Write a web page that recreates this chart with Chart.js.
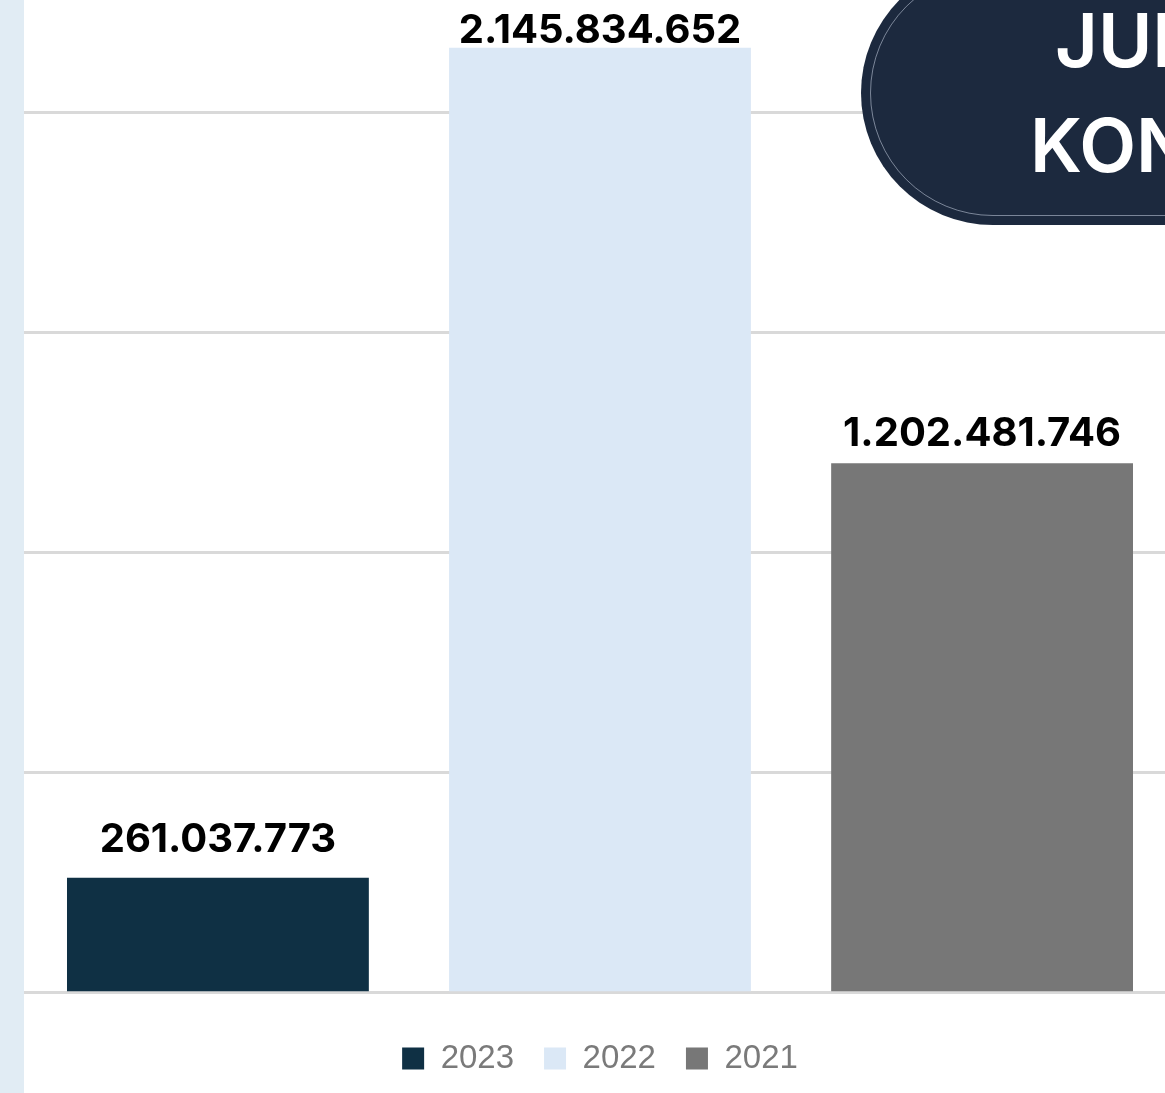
<!DOCTYPE html>
<html>
<head>
<meta charset="utf-8">
<script src="https://cdn.jsdelivr.net/npm/chart.js@4.4.1/dist/chart.umd.min.js"></script>
<style>
  html, body { margin: 0; padding: 0; width: 1165px; height: 1093px; overflow: hidden; background: #fff; }
  #strip { position: absolute; left: 0; top: 0; width: 24px; height: 1093px; background: #e1ecf4; }
  #wrap { position: absolute; left: 24px; top: 0; width: 1152px; height: 1093px; }
  #pill { position: absolute; left: 861px; top: -39px; width: 600px; height: 264px; border-radius: 132px; background: #1c293e; }
  #pill:before { content: ""; position: absolute; left: 9px; top: 9px; right: -20px; bottom: 9px; border: 1px solid rgba(200,210,225,0.55); border-radius: 123px; }
  .ptxt { position: absolute; color: #fff; font-family: Inter, sans-serif; font-weight: 600; font-size: 74px; line-height: 1; white-space: nowrap; }
</style>
</head>
<body>
<div id="strip"></div>
<div id="wrap"><canvas id="myChart" width="1152" height="1093"></canvas></div>
<div id="pill"></div>
<div class="ptxt" style="left:1055px; top:3px;">JUMLAH</div>
<div class="ptxt" style="left:1030px; top:108px;">KONSUMSI</div>
<script>
// data
const categories = ['Jumlah'];
const years = ['2023', '2022', '2021'];
const values = [261037773, 2145834652, 1202481746];
const yTicks = [0, 500000000, 1000000000, 1500000000, 2000000000];

const colors = ['#0f3044', '#dbe8f6', '#777777'];
const labelGaps = [26, 5, 17];

const fmt = v => String(v).replace(/\B(?=(\d{3})+(?!\d))/g, '.');

// value labels above bars
const barLabels = {
  id: 'barLabels',
  afterDatasetsDraw(chart) {
    const ctx = chart.ctx;
    ctx.save();
    ctx.font = '700 40px Inter, sans-serif';
    ctx.fillStyle = '#000';
    ctx.textAlign = 'center';
    ctx.textBaseline = 'alphabetic';
    chart.data.datasets.forEach((ds, i) => {
      chart.getDatasetMeta(i).data.forEach((bar, j) => {
        ctx.fillText(fmt(ds.data[j]), bar.x, bar.y - labelGaps[i]);
      });
    });
    ctx.restore();
  }
};

const ctx = document.getElementById('myChart').getContext('2d');
const myChart = new Chart(ctx, {
  type: 'bar',
  data: {
    labels: categories,
    datasets: years.map((y, i) => ({
      label: y,
      data: [values[i]],
      backgroundColor: colors[i],
      categoryPercentage: 0.995,
      barPercentage: 0.79
    }))
  },
  options: {
    responsive: false,
    animation: false,
    maintainAspectRatio: false,
    layout: { padding: { top: 0, left: 0, right: 0, bottom: 8 } },
    scales: {
      x: { display: false },
      y: {
        min: 0,
        max: 2254500000,
        afterBuildTicks: axis => { axis.ticks = yTicks.map(v => ({ value: v })); },
        ticks: { display: false, padding: 0 },
        border: { display: false },
        grid: { color: '#d9d9d9', lineWidth: 3, drawTicks: false }
      }
    },
    plugins: {
      tooltip: { enabled: false },
      legend: {
        position: 'bottom',
        title: { display: true, text: '', font: { size: 1 }, padding: { top: 0, bottom: 18 } },
        labels: {
          color: '#7a7a7a',
          font: { family: '"Liberation Sans", Arial, sans-serif', size: 33 },
          boxWidth: 22,
          boxHeight: 22,
          padding: 30
        }
      }
    }
  },
  plugins: [barLabels]
});
</script>
</body>
</html>
